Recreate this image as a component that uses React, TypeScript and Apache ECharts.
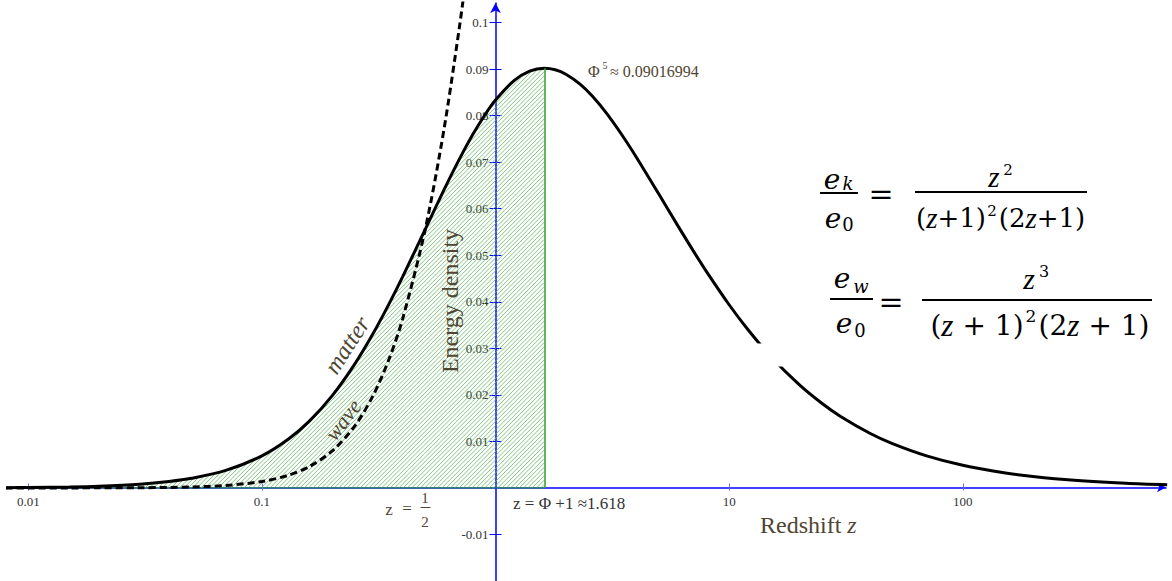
import React, { useEffect, useRef } from "react";
import * as echarts from "echarts";

// Redshift z sample points and the matter energy density
const zValues = [
  0.008, 0.01, 0.015, 0.02, 0.03, 0.04, 0.05, 0.07, 0.1, 0.13, 0.16, 0.2, 0.25, 0.3, 0.35, 0.4,
  0.5, 0.6, 0.7, 0.8, 0.9, 1.0, 1.2, 1.4, 1.618, 1.8, 2.0, 2.3, 2.6, 3, 3.5, 4, 5, 6, 7, 8, 10,
  12, 15, 20, 25, 30, 40, 50, 70, 100, 150, 200, 300, 500, 750,
];
const matterValues = [
  0.000062, 0.0000961, 0.000212, 0.00037, 0.0008, 0.00137, 0.002061, 0.003754, 0.006887,
  0.010504, 0.014413, 0.019841, 0.026667, 0.033284, 0.039538, 0.045351, 0.055556, 0.06392,
  0.070646, 0.075973, 0.080134, 0.083333, 0.087506, 0.089547, 0.09017, 0.08984, 0.088889,
  0.086744, 0.08413, 0.080357, 0.075617, 0.071111, 0.063131, 0.056515, 0.051042, 0.046478,
  0.039355, 0.034083, 0.028352, 0.022123, 0.018129, 0.015353, 0.011751, 0.009517, 0.006894,
  0.004877, 0.003278, 0.002469, 0.001653, 0.000995, 0.000664,
];
// Dashed "wave" curve
const waveZ = [
  0.008, 0.01, 0.015, 0.02, 0.03, 0.04, 0.05, 0.07, 0.1, 0.13, 0.16, 0.2, 0.25, 0.3, 0.35, 0.4,
  0.5, 0.6, 0.7, 0.75,
];
const waveValues = [
  0.000001, 0.0000019, 0.0000064, 0.0000148, 0.000048, 0.00011, 0.000206, 0.000526, 0.001377,
  0.002731, 0.004612, 0.007937, 0.013333, 0.01997, 0.027677, 0.036281, 0.055556, 0.076704,
  0.098904, 0.110204,
];
const zPeak = 1.618;
const peakValue = 0.09017;

const xTickValues = [0.01, 0.1, 10, 100];
const xTickLabels = ["0.01", "0.1", "10", "100"];
const yTickValues = [-0.01, 0.01, 0.02, 0.03, 0.04, 0.05, 0.06, 0.07, 0.08, 0.09, 0.1];
const yTickLabels = ["-0.01", "0.01", "0.02", "0.03", "0.04", "0.05", "0.06", "0.07", "0.08", "0.09", "0.1"];

const X_MIN = 0.008185;
const X_MAX = 741.3;
const Y_MIN = -0.02;
const Y_MAX = 0.10419;

const AXIS_BLUE = "#0000ff";
const TICK_BLUE = "#6b6bff";
const GREEN = "#2f9f2f";
const HATCH_GREEN = "#62b862";
const HATCH_STEP = 4.3;
const NOTE = "#4f4533";
const SERIF = "Liberation Serif";
const MATH = "DejaVu Serif";

function txt(
  x: number,
  y: number,
  text: string,
  size: number,
  opts: { family?: string; italic?: boolean; color?: string; align?: string; rotation?: number; rich?: any } = {}
) {
  return {
    type: "text",
    x,
    y,
    rotation: opts.rotation || 0,
    z: 50,
    silent: true,
    style: {
      text,
      fontSize: size,
      fontFamily: opts.family || MATH,
      fontStyle: opts.italic ? "italic" : "normal",
      fill: opts.color || "#000",
      align: opts.align || "center",
      verticalAlign: "middle",
      rich: opts.rich,
    },
  };
}

function bar(x1: number, x2: number, y: number, color = "#000", w = 2) {
  return {
    type: "line",
    z: 50,
    silent: true,
    shape: { x1, y1: y, x2, y2: y },
    style: { stroke: color, lineWidth: w },
  };
}

function mathRich(size: number) {
  return {
    n: { fontFamily: MATH, fontSize: size, fontStyle: "normal", fill: "#000" },
    i: { fontFamily: SERIF, fontSize: size * 1.12, fontStyle: "italic", fill: "#000" },
  };
}

export default function App() {
  const ref = useRef<HTMLDivElement>(null);

  useEffect(() => {
    document.body.style.margin = "0";
    document.body.style.overflow = "hidden";
    if (!ref.current) return;
    const chart = echarts.init(ref.current, null, { renderer: "svg" });

    const matterData = zValues.map((z, i) => [z, matterValues[i]]);
    const hatchData = zValues.filter((z) => z <= zPeak).map((z, i) => [z, matterValues[i]]);
    const waveData = waveZ.map((z, i) => [z, waveValues[i]]);

    const xFmt = (v: number) => {
      const i = xTickValues.findIndex((t) => Math.abs(v - t) / t < 1e-6);
      return i >= 0 ? xTickLabels[i] : "";
    };
    const yFmt = (v: number) => {
      const i = yTickValues.findIndex((t) => Math.abs(v - t) < 1e-9);
      return i >= 0 ? yTickLabels[i] : "";
    };

    // Diagonal hatching of the region under the matter curve up to the peak
    const renderHatch = (_params: any, api: any) => {
      const poly: number[][] = hatchData.map((d) => api.coord(d));
      poly.push(api.coord([zPeak, 0]));
      poly.push(api.coord([hatchData[0][0], 0]));
      let cMin = Infinity;
      let cMax = -Infinity;
      poly.forEach((p) => {
        cMin = Math.min(cMin, p[0] + p[1]);
        cMax = Math.max(cMax, p[0] + p[1]);
      });
      const children: any[] = [];
      for (let c = cMin + HATCH_STEP / 2; c < cMax; c += HATCH_STEP) {
        const hits: number[][] = [];
        for (let k = 0; k < poly.length; k++) {
          const a = poly[k];
          const b = poly[(k + 1) % poly.length];
          const fa = a[0] + a[1] - c;
          const fb = b[0] + b[1] - c;
          if ((fa < 0) !== (fb < 0)) {
            const t = fa / (fa - fb);
            hits.push([a[0] + t * (b[0] - a[0]), a[1] + t * (b[1] - a[1])]);
          }
        }
        hits.sort((p, q) => p[0] - q[0]);
        for (let k = 0; k + 1 < hits.length; k += 2) {
          children.push({
            type: "line",
            silent: true,
            shape: { x1: hits[k][0], y1: hits[k][1], x2: hits[k + 1][0], y2: hits[k + 1][1] },
            style: { stroke: HATCH_GREEN, lineWidth: 0.8 },
          });
        }
      }
      return { type: "group", children };
    };

    const xBase = {
      type: "log",
      logBase: 10,
      min: X_MIN,
      max: X_MAX,
      position: "bottom",
      offset: -93.5,
      splitLine: { show: false },
      minorTick: { show: false },
    };
    const yBase = {
      type: "value",
      min: Y_MIN,
      max: Y_MAX,
      position: "left",
      offset: -487.5,
      splitLine: { show: false },
    };

    chart.setOption({
      animation: false,
      grid: { left: 8, right: 6, top: 3, bottom: 0, containLabel: false, outerBoundsMode: "none" },
      xAxis: [
        {
          ...xBase,
          axisLine: {
            show: true,
            onZero: false,
            symbol: ["none", "arrow"],
            symbolSize: [7, 9],
            lineStyle: { color: AXIS_BLUE, width: 1.5 },
          },
          axisTick: { show: true, inside: true, length: 4, customValues: xTickValues, lineStyle: { color: TICK_BLUE, width: 1 } },
          axisLabel: {
            show: true,
            customValues: xTickValues,
            formatter: xFmt,
            margin: 7,
            fontFamily: SERIF,
            fontSize: 13,
            color: "#333",
          },
        },
        {
          ...xBase,
          axisLine: { show: false, onZero: false },
          axisTick: { show: true, inside: false, length: 3, customValues: xTickValues, lineStyle: { color: TICK_BLUE, width: 1 } },
          axisLabel: { show: false },
        },
      ],
      yAxis: [
        {
          ...yBase,
          axisLine: {
            show: true,
            onZero: false,
            symbol: ["none", "arrow"],
            symbolSize: [8, 10],
            lineStyle: { color: AXIS_BLUE, width: 1.5 },
          },
          axisTick: { show: true, inside: false, length: 6, customValues: yTickValues, lineStyle: { color: AXIS_BLUE, width: 1 } },
          axisLabel: {
            show: true,
            customValues: yTickValues,
            formatter: yFmt,
            margin: 7,
            fontFamily: SERIF,
            fontSize: 13,
            color: "#333",
          },
        },
        {
          ...yBase,
          axisLine: { show: false, onZero: false },
          axisTick: { show: true, inside: true, length: 6, customValues: yTickValues, lineStyle: { color: AXIS_BLUE, width: 1 } },
          axisLabel: { show: false },
        },
      ],
      series: [
        {
          type: "custom",
          name: "hatch",
          coordinateSystem: "cartesian2d",
          data: [[zPeak, peakValue]],
          encode: { x: 0, y: 1 },
          renderItem: renderHatch,
          clip: true,
          silent: true,
          z: 1,
          markLine: {
            silent: true,
            symbol: "none",
            label: { show: false },
            lineStyle: { color: GREEN, width: 1.5, type: "solid" },
            data: [[{ coord: [zPeak, 0] }, { coord: [zPeak, peakValue] }]],
          },
        },
        {
          type: "line",
          name: "baseline",
          data: [
            [zValues[0], 0],
            [zPeak, 0],
          ],
          showSymbol: false,
          silent: true,
          z: 2,
          lineStyle: { color: GREEN, width: 1 },
        },
        {
          type: "line",
          name: "wave",
          data: waveData,
          smooth: 0.3,
          showSymbol: false,
          silent: true,
          z: 3,
          lineStyle: { color: "#000", width: 3, type: [7, 4] },
        },
        {
          type: "line",
          name: "matter",
          data: matterData,
          smooth: 0.3,
          showSymbol: false,
          silent: true,
          z: 4,
          lineStyle: { color: "#000", width: 3 },
        },
      ],
      graphic: [
        // gap in the matter curve
        {
          type: "rect",
          z: 40,
          silent: true,
          shape: { x: 745, y: 343.5, width: 50, height: 23 },
          style: { fill: "#fff" },
        },
        // peak annotation
        txt(588, 71, "Φ", 16, { family: SERIF, color: NOTE, align: "left" }),
        txt(605, 65, "5", 10, { family: SERIF, color: NOTE }),
        txt(610, 71, "≈ 0.09016994", 16, { family: SERIF, color: NOTE, align: "left" }),
        // z = 1/2
        txt(389, 509, "z", 17, { family: SERIF, color: NOTE }),
        txt(407, 508, "=", 17, { family: SERIF, color: NOTE }),
        txt(425, 498, "1", 15, { family: SERIF, color: NOTE }),
        bar(420.5, 430.5, 507.5, NOTE, 1),
        txt(425, 522, "2", 15, { family: SERIF, color: NOTE }),
        // z = Φ + 1
        txt(513, 503, "z = Φ +1 ≈1.618", 17, { family: SERIF, color: "#333", align: "left" }),
        // axis titles
        txt(760, 525, "{n|Redshift }{i|z}", 24, {
          family: SERIF,
          color: NOTE,
          align: "left",
          rich: {
            n: { fontFamily: SERIF, fontSize: 24, fill: NOTE },
            i: { fontFamily: SERIF, fontSize: 24, fontStyle: "italic", fill: NOTE },
          },
        }),
        txt(450, 301, "Energy density", 24, { family: SERIF, color: NOTE, rotation: Math.PI / 2 }),
        txt(347, 345, "matter", 24, { family: SERIF, italic: true, color: NOTE, rotation: 0.995 }),
        txt(343, 420, "wave", 22, { family: SERIF, italic: true, color: NOTE, rotation: 0.925 }),
        // formula 1
        txt(832, 179, "e", 28, { italic: true }),
        txt(848, 183, "k", 18, { italic: true }),
        bar(820, 858, 193),
        txt(833, 218, "e", 28, { italic: true }),
        txt(848, 224, "0", 18),
        txt(881, 193, "=", 30),
        txt(994, 177, "z", 29, { family: SERIF, italic: true }),
        txt(1008, 170, "2", 15),
        bar(915, 1087, 192),
        txt(951, 218, "{n|(}{i|z}{n|+1)}", 26, { rich: mathRich(26) }),
        txt(992, 211, "2", 15),
        txt(1042, 218, "{n|(2}{i|z}{n|+1)}", 26, { rich: mathRich(26) }),
        // formula 2
        txt(842, 278, "e", 28, { italic: true }),
        txt(861, 286, "w", 18, { italic: true }),
        bar(830, 873, 299),
        txt(844, 323, "e", 28, { italic: true }),
        txt(860, 330, "0", 18),
        txt(891, 301, "=", 30),
        txt(1029, 278, "z", 30, { family: SERIF, italic: true }),
        txt(1044, 271, "3", 16),
        bar(922, 1152, 300),
        txt(977, 325, "{n|(}{i|z}{n| + 1)}", 28, { rich: mathRich(28) }),
        txt(1031, 316, "2", 17),
        txt(1094, 325, "{n|(2}{i|z}{n| + 1)}", 28, { rich: mathRich(28) }),
      ],
    });

    return () => chart.dispose();
  }, []);

  return <div ref={ref} style={{ width: 1172, height: 581 }} />;
}
